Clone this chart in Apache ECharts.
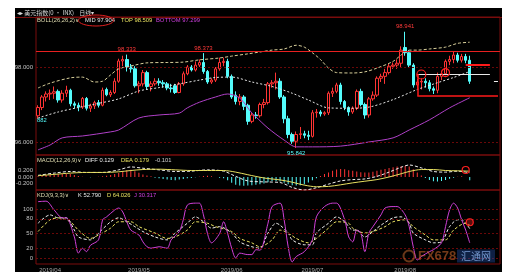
<!DOCTYPE html>
<html>
<head>
<meta charset="utf-8">
<script src="https://cdn.jsdelivr.net/npm/echarts@6.0.0/dist/echarts.min.js"></script>
<style>
html,body{margin:0;padding:0;background:#fff;overflow:hidden;}
#bg{position:absolute;left:15px;top:8px;width:487px;height:264px;background:#000;}
#c{position:absolute;left:0;top:0;width:512px;height:280px;}
</style>
</head>
<body>
<div id="bg"></div>
<div id="c"></div>
<script>
// ---- categories (trading days) ----
const monthDays = {
  '2019/03': [27,28,29],
  '2019/04': [1,2,3,4,5,8,9,10,11,12,15,16,17,18,19,22,23,24,25,26,29,30],
  '2019/05': [1,2,3,6,7,8,9,10,13,14,15,16,17,20,21,22,23,24,27,28,29,30,31],
  '2019/06': [3,4,5,6,7,10,11,12,13,14,17,18,19,20,21,24,25,26,27,28],
  '2019/07': [1,2,3,4,5,8,9,10,11,12,15,16,17,18,19,22,23,24,25,26,29,30,31],
  '2019/08': [1,2,5,6,7,8,9,12,13,14,15,16,19,20,21,22,23]
};
const blankSlots = ['x1','x2','x3','x4','x5','x6','x7'];

// ---- daily candles ----
const open = [96.70,96.92,97.20,97.28,97.30,97.35,97.12,97.30,97.38,97.02,
 96.98,96.93,97.16,96.90,96.96,97.05,96.98,97.40,97.26,97.32,
 97.62,98.16,98.20,98.00,97.95,97.50,97.55,97.85,97.48,97.55,
 97.62,97.58,97.55,97.44,97.50,97.32,97.55,97.82,98.00,97.92,
 98.05,98.12,97.88,97.60,97.65,97.95,98.12,98.15,97.75,97.25,
 97.08,97.20,96.98,96.55,96.72,96.70,97.00,97.05,97.55,97.58,
 97.62,97.20,96.62,96.20,96.02,96.20,96.22,96.18,96.15,96.78,
 96.80,96.75,96.78,97.30,97.35,97.52,97.08,96.92,96.80,96.90,
 97.35,97.00,96.72,97.15,97.25,97.70,97.75,97.85,98.02,98.05,
 98.10,98.52,98.38,98.05,97.52,97.60,97.62,97.58,97.42,97.38,
 97.75,97.82,98.15,98.20,98.32,98.18,98.28,98.18];
const close = [96.92,97.20,97.28,97.30,97.34,97.12,97.30,97.38,97.02,96.98,
 96.93,97.16,96.90,96.96,97.05,96.98,97.38,97.26,97.32,97.62,
 98.16,98.20,98.00,97.95,97.50,97.55,97.85,97.48,97.55,97.62,
 97.58,97.55,97.44,97.42,97.32,97.55,97.82,98.00,97.92,98.05,
 98.12,97.88,97.60,97.65,97.95,98.12,98.15,97.75,97.20,97.08,
 97.20,96.95,96.55,96.72,96.70,97.00,97.05,97.55,97.58,97.62,
 97.20,96.62,96.20,96.02,96.20,96.22,96.18,96.15,96.78,96.80,
 96.75,96.78,97.30,97.35,97.52,97.08,96.92,96.80,96.90,97.35,
 97.00,96.72,97.15,97.25,97.70,97.75,97.85,98.02,98.05,98.10,
 98.45,98.38,98.05,97.52,97.60,97.62,97.58,97.42,97.38,97.75,
 97.82,98.15,98.20,98.32,98.18,98.28,98.18,97.62];
const low = [96.62,96.85,97.08,97.12,97.15,97.05,97.05,97.20,96.95,96.90,
 96.82,96.88,96.84,96.80,96.88,96.92,96.95,97.22,97.20,97.28,
 97.58,98.02,97.88,97.85,97.45,97.30,97.48,97.40,97.35,97.50,
 97.50,97.45,97.38,97.32,97.28,97.30,97.50,97.78,97.88,97.88,
 98.00,97.82,97.55,97.55,97.60,97.90,98.02,97.70,97.15,97.00,
 96.98,96.85,96.46,96.50,96.62,96.65,96.90,97.00,97.45,97.40,
 97.15,96.50,96.10,95.95,95.84,96.08,96.10,96.05,96.12,96.65,
 96.68,96.70,96.72,97.20,97.30,97.00,96.85,96.70,96.75,96.85,
 96.95,96.62,96.65,97.10,97.20,97.60,97.55,97.80,97.95,97.95,
 98.00,98.30,97.98,97.45,97.42,97.40,97.45,97.35,97.28,97.30,
 97.65,97.78,98.05,98.10,98.12,98.12,98.10,97.55];
const high = [96.98,97.25,97.35,97.40,97.48,97.40,97.38,97.50,97.42,97.08,
 97.05,97.20,97.20,97.02,97.10,97.12,97.45,97.45,97.38,97.70,
 98.22,98.30,98.33,98.08,98.02,97.62,97.92,97.90,97.62,97.70,
 97.70,97.65,97.60,97.55,97.55,97.60,97.88,98.05,98.05,98.15,
 98.20,98.37,97.92,97.70,98.00,98.25,98.25,98.22,97.80,97.35,
 97.28,97.25,97.02,96.78,96.80,97.05,97.15,97.60,97.65,97.85,
 97.70,97.25,96.70,96.25,96.28,96.40,96.30,96.30,96.85,96.88,
 96.85,96.82,97.35,97.45,97.58,97.58,97.12,96.95,96.95,97.40,
 97.42,97.05,97.20,97.35,97.75,97.82,97.95,98.08,98.12,98.20,
 98.55,98.94,98.45,98.10,97.68,97.70,97.70,97.65,97.48,97.85,
 97.90,98.20,98.30,98.40,98.38,98.35,98.35,98.30];

// ---- BOLL bands, read at [day index, value] ----
const bollTop = [[0,97.44],[3,97.57],[8,97.71],[11,97.73],[14,97.60],[16,97.62],[18,97.79],[20,97.95],[24,98.05],[27,98.11],[32,98.12],[36,98.13],[40,98.19],[45,98.24],[48,98.29],[52,98.35],[55,98.40],[58,98.45],[61,98.48],[64,98.58],[66,98.53],[68,98.38],[70,98.20],[72,97.97],[74,97.85],[78,97.84],[81,97.87],[84,97.97],[88,98.15],[90,98.32],[92,98.45],[94,98.45],[97,98.48],[101,98.53],[104,98.63],[107,98.66]];
const bollMid = [[0,96.64],[5,96.80],[10,96.92],[15,97.03],[20,97.15],[25,97.36],[30,97.45],[35,97.55],[40,97.65],[44,97.72],[48,97.73],[53,97.60],[58,97.48],[63,97.30],[67,97.12],[72,96.91],[77,96.90],[82,96.93],[88,97.13],[94,97.40],[99,97.58],[103,97.72],[107,97.88]];
const bollBottom = [[0,95.79],[3,95.92],[6,96.11],[11,96.16],[18,96.27],[20,96.32],[25,96.64],[30,96.72],[35,96.77],[37,96.91],[40,97.06],[44,97.20],[47,97.28],[50,97.17],[53,96.77],[54,96.67],[57,96.37],[61,96.05],[64,95.87],[68,95.87],[75,95.89],[82,96.00],[88,96.11],[92,96.32],[97,96.59],[102,96.91],[107,97.18]];

// ---- MACD ----
const macdDiff = [[0,0.05],[4,0.12],[8,0.17],[12,0.14],[16,0.14],[20,0.22],[23,0.31],[26,0.27],[30,0.22],[34,0.17],[38,0.18],[42,0.22],[46,0.18],[49,0.02],[52,-0.12],[56,-0.15],[60,-0.17],[63,-0.32],[66,-0.40],[69,-0.33],[72,-0.22],[75,-0.12],[78,-0.08],[81,-0.06],[84,0.02],[87,0.15],[90,0.30],[92,0.37],[95,0.28],[98,0.17],[101,0.15],[104,0.18],[107,0.13]];
const macdDea = [[0,0.04],[4,0.08],[8,0.12],[12,0.14],[16,0.14],[20,0.16],[23,0.20],[26,0.23],[30,0.24],[34,0.22],[38,0.20],[42,0.20],[46,0.20],[49,0.15],[52,0.07],[56,-0.03],[60,-0.09],[63,-0.16],[66,-0.25],[69,-0.30],[72,-0.29],[75,-0.24],[78,-0.18],[81,-0.13],[84,-0.08],[87,0.00],[90,0.10],[92,0.17],[95,0.23],[98,0.23],[101,0.20],[104,0.19],[107,0.18]];
const macdHist = [0.02,0.04,0.06,0.07,0.08,0.09,0.10,0.10,0.09,0.06,
 0.03,0.01,0.00,-0.01,0.00,0.01,0.02,0.04,0.06,0.09,
 0.12,0.17,0.21,0.22,0.18,0.13,0.08,0.05,0.02,-0.02,
 -0.04,-0.06,-0.08,-0.09,-0.10,-0.08,-0.06,-0.04,-0.03,-0.01,
 0.01,0.03,0.04,0.02,0.00,-0.02,-0.04,-0.10,-0.18,-0.24,
 -0.26,-0.27,-0.26,-0.25,-0.24,-0.22,-0.20,-0.16,-0.12,-0.12,
 -0.14,-0.18,-0.22,-0.25,-0.26,-0.25,-0.22,-0.17,-0.10,-0.04,
 0.03,0.09,0.14,0.19,0.23,0.25,0.24,0.21,0.19,0.17,
 0.15,0.14,0.14,0.16,0.19,0.22,0.25,0.28,0.30,0.32,
 0.33,0.34,0.32,0.24,0.14,0.05,-0.03,-0.09,-0.13,-0.14,
 -0.12,-0.09,-0.05,-0.02,0.01,0.02,0.00,-0.10];

// ---- KDJ ----
const kdjK = [[0,71],[3,88],[5,82],[7,82],[9,57],[10,43],[13,37],[15,51],[18,74],[20,82],[22,74],[24,64],[26,54],[29,43],[32,37],[34,51],[37,71],[39,84],[41,74],[43,61],[45,64],[48,51],[50,33],[53,23],[55,20],[57,51],[59,71],[60,67],[62,51],[63,37],[66,27],[68,27],[69,51],[72,71],[74,84],[76,74],[78,57],[79,57],[81,43],[83,54],[85,67],[88,82],[90,84],[92,71],[93,51],[96,37],[98,31],[100,33],[102,64],[104,78],[105,78],[106,71],[107,60]];
const kdjD = [[0,54],[3,78],[5,82],[8,74],[10,57],[13,40],[15,47],[18,61],[20,74],[23,74],[25,64],[29,51],[32,40],[34,43],[37,57],[39,74],[42,71],[44,64],[48,54],[50,40],[53,31],[55,23],[58,37],[60,57],[62,51],[64,40],[67,31],[69,40],[72,61],[74,74],[77,71],[78,61],[81,51],[83,54],[86,64],[88,74],[91,78],[93,64],[96,47],[98,37],[101,37],[103,57],[106,71],[107,67]];
const kdjJ = [[0,115],[2,116],[4,98],[6,82],[7,82],[9,43],[10,10],[11,20],[12,13],[13,26],[15,37],[16,78],[17,84],[19,98],[20,102],[21,94],[22,74],[23,57],[25,47],[26,33],[27,23],[28,20],[30,23],[32,20],[33,37],[35,54],[36,78],[37,108],[39,112],[40,112],[41,88],[42,50],[43,31],[45,50],[46,74],[47,50],[48,20],[49,0],[50,10],[52,7],[53,7],[54,17],[55,16],[57,71],[58,105],[60,112],[61,78],[62,23],[63,-8],[64,3],[66,13],[68,37],[69,84],[71,105],[73,112],[74,112],[76,78],[77,43],[78,33],[79,57],[80,51],[81,13],[82,51],[83,64],[85,88],[86,102],[88,105],[89,105],[91,88],[92,64],[93,23],[94,-4],[95,3],[97,13],[98,17],[100,31],[101,64],[102,98],[103,112],[104,102],[105,78],[106,57],[107,31]];

// ---- tick labels ----
const priceTicks = [96, 98];
const macdTicks = [-0.2, 0, 0.2];
const kdjTicks = [0, 20, 50, 80, 100];

// ---- build ----
const dates = [];
const monthLabel = [];
Object.keys(monthDays).forEach((m, mi) => {
  monthDays[m].forEach((d, di) => {
    dates.push(m + '/' + (d < 10 ? '0' + d : d));
    monthLabel.push(di === 0 && mi > 0 ? m : '');
  });
});
const cats = dates.concat(blankSlots);
const candles = open.map((o, i) => [o, close[i], low[i], high[i]]);

const FONT = 'Liberation Sans, DejaVu Sans, Noto Sans CJK SC, sans-serif';
const RED = '#ff3434', CYAN = '#54fcfc';
const gridBorder = '#7a0c0c';
const HF = 5.8;

const xAxisBase = (gi, showLabel) => ({
  type: 'category', gridIndex: gi, data: cats, boundaryGap: true,
  axisLine: {show: false}, axisTick: {show: false}, splitLine: {show: false},
  axisLabel: showLabel ? {
    show: true, interval: 0, fontSize: 6, color: '#a8a8a8', margin: 3, fontFamily: FONT,
    formatter: (v, i) => monthLabel[i] || ''
  } : {show: false}
});

const lbl = (txt, color, pos) => ({
  show: true, position: pos, distance: 1.5, formatter: txt, color: color, fontSize: 6, fontFamily: FONT
});
const txt = (x, y, s, fill, extra) => Object.assign({
  type: 'text', z: 50, x: x, y: y,
  style: {text: s, fill: fill, fontSize: HF, fontFamily: FONT, verticalAlign: 'middle'}
}, extra || {});

const option = {
  animation: false,
  backgroundColor: 'transparent',
  textStyle: {fontFamily: FONT},
  grid: [
    {left: 36, top: 17, width: 464, height: 138, show: true, borderColor: gridBorder, borderWidth: 1},
    {left: 36, top: 155, width: 464, height: 35, show: true, borderColor: gridBorder, borderWidth: 1},
    {left: 36, top: 190, width: 464, height: 74, show: true, borderColor: gridBorder, borderWidth: 1}
  ],
  xAxis: [xAxisBase(0, false), xAxisBase(1, false), xAxisBase(2, true)],
  yAxis: [
    {type: 'value', gridIndex: 0, min: 95.653, max: 99.333, splitLine: {show: false}, axisLine: {show: false}, axisTick: {show: false},
     axisLabel: {customValues: priceTicks, formatter: v => v.toFixed(3), fontSize: 6, color: '#c0c0c0', margin: 3, fontFamily: FONT}},
    {type: 'value', gridIndex: 1, min: -0.4, max: 0.677, splitLine: {show: false}, axisLine: {show: false}, axisTick: {show: false},
     axisLabel: {customValues: macdTicks, formatter: v => v.toFixed(3), fontSize: 6, color: '#c0c0c0', margin: 3, fontFamily: FONT}},
    {type: 'value', gridIndex: 2, min: -12.2, max: 138.8, splitLine: {show: false}, axisLine: {show: false}, axisTick: {show: false},
     axisLabel: {customValues: kdjTicks, formatter: v => String(v), fontSize: 6, color: '#c0c0c0', margin: 3, fontFamily: FONT}}
  ],
  series: [
    {
      type: 'candlestick', xAxisIndex: 0, yAxisIndex: 0, data: candles, barWidth: 3,
      itemStyle: {color: '#000', color0: CYAN, borderColor: RED, borderColor0: CYAN, borderWidth: 1},
      markLine: {
        silent: true, symbol: ['none', 'none'], label: {show: false},
        data: [
          {yAxis: 98, lineStyle: {color: '#6a0808', type: [2, 2], width: 1}},
          {yAxis: 96, lineStyle: {color: '#6a0808', type: [2, 2], width: 1}},
          {yAxis: 98.42, lineStyle: {color: '#e82020', type: 'solid', width: 1}},
          [{coord: [106, 98.05], lineStyle: {color: '#ff1a1a', width: 2, type: 'solid'}}, {coord: [112, 98.05]}],
          [{coord: [94, 97.81], lineStyle: {color: '#e8e8e8', width: 1, type: 'solid'}}, {coord: [112, 97.81]}],
          [{coord: [94, 97.81], lineStyle: {color: '#ff1a1a', width: 1.5, type: 'solid'}}, {coord: [94, 97.23]}],
          [{coord: [94, 97.23], lineStyle: {color: '#ff1a1a', width: 1.5, type: 'solid'}}, {coord: [114, 97.23]}],
          [{coord: [113, 97.62], lineStyle: {color: '#f0f0f0', width: 1, type: 'solid'}}, {coord: [114, 97.62]}]
        ]
      },
      markPoint: {
        silent: true,
        data: [
          {coord: [22, 98.33], symbol: 'circle', symbolSize: 1, itemStyle: {color: 'transparent'}, label: lbl('98.333', '#ff3a3a', 'top')},
          {coord: [41, 98.37], symbol: 'circle', symbolSize: 1, itemStyle: {color: 'transparent'}, label: lbl('98.373', '#ff3a3a', 'top')},
          {coord: [91, 98.94], symbol: 'circle', symbolSize: 1, itemStyle: {color: 'transparent'}, label: lbl('98.941', '#ff3a3a', 'top')},
          {coord: [64, 95.84], symbol: 'circle', symbolSize: 1, itemStyle: {color: 'transparent'}, label: lbl('95.842', CYAN, 'bottom')},
          {coord: [95, 97.80], symbol: 'circle', symbolSize: 9, itemStyle: {color: 'transparent', borderColor: '#ff2020', borderWidth: 1.2}, label: {show: false}},
          {coord: [101, 97.85], symbol: 'circle', symbolSize: 8, itemStyle: {color: 'transparent', borderColor: '#ff2020', borderWidth: 1.2}, label: {show: false}}
        ]
      }
    },
    {type: 'line', xAxisIndex: 0, yAxisIndex: 0, data: bollTop, symbol: 'none', smooth: 0.3,
     lineStyle: {color: '#d8cf9a', width: 1, type: [3, 2]}},
    {type: 'line', xAxisIndex: 0, yAxisIndex: 0, data: bollMid, symbol: 'none', smooth: 0.3,
     lineStyle: {color: '#e6e6e6', width: 1, type: [2, 2]}},
    {type: 'line', xAxisIndex: 0, yAxisIndex: 0, data: bollBottom, symbol: 'none', smooth: 0.3,
     lineStyle: {color: '#b040c8', width: 1}},
    {type: 'bar', xAxisIndex: 1, yAxisIndex: 1, data: macdHist, barWidth: 1,
     itemStyle: {color: p => p.value >= 0 ? RED : CYAN}},
    {type: 'line', xAxisIndex: 1, yAxisIndex: 1, data: macdDiff, symbol: 'none', smooth: 0.3,
     lineStyle: {color: '#f0f0f0', width: 1, type: [3, 2]}},
    {type: 'line', xAxisIndex: 1, yAxisIndex: 1, data: macdDea, symbol: 'none', smooth: 0.3,
     lineStyle: {color: '#e8e060', width: 1},
     markPoint: {silent: true, data: [
       {coord: [106, 0.215], symbol: 'circle', symbolSize: 7, itemStyle: {color: 'transparent', borderColor: '#ff2020', borderWidth: 1.2}, label: {show: false}}
     ]}},
    {type: 'line', xAxisIndex: 2, yAxisIndex: 2, data: kdjK, symbol: 'none', smooth: 0.3,
     lineStyle: {color: '#f0f0f0', width: 1, type: [3, 2]},
     markLine: {silent: true, symbol: ['none', 'none'], label: {show: false},
       lineStyle: {color: '#6a0808', type: [2, 2], width: 1},
       data: kdjTicks.map(v => ({yAxis: v}))}},
    {type: 'line', xAxisIndex: 2, yAxisIndex: 2, data: kdjD, symbol: 'none', smooth: 0.3,
     lineStyle: {color: '#e8e060', width: 1, type: [3, 2]}},
    {type: 'line', xAxisIndex: 2, yAxisIndex: 2, data: kdjJ, symbol: 'none', smooth: 0.3,
     lineStyle: {color: '#d040d8', width: 1},
     markPoint: {silent: true, data: [
       {coord: [107, 73], symbol: 'circle', symbolSize: 7, itemStyle: {color: 'rgba(255,40,40,0.35)', borderColor: '#ff2020', borderWidth: 1.2}, label: {show: false}}
     ]}}
  ],
  graphic: [
    {type: 'line', z: 50, shape: {x1: 15, y1: 17.5, x2: 502, y2: 17.5}, style: {stroke: gridBorder, lineWidth: 1}},
    {type: 'text', z: 50, x: 17, y: 12.5, style: {text: '◂▸ 美元指数(0 · INX)    日线▾', fill: '#d8d8d8', fontSize: 6, fontFamily: 'Noto Sans CJK SC', verticalAlign: 'middle'}},
    txt(37, 20.5, 'BOLL(26,26,2)∨', '#e0dcb0'),
    txt(85, 20.5, 'MID 97.904', '#e8e8e8'),
    txt(121, 20.5, 'TOP 98.509', '#e8e060'),
    txt(156, 20.5, 'BOTTOM 97.299', '#d040e0'),
    {type: 'ellipse', z: 50, shape: {cx: 96, cy: 20.5, rx: 17.5, ry: 5.5}, style: {fill: 'none', stroke: '#e02020', lineWidth: 1}},
    txt(37, 120, '882', CYAN),
    txt(37, 160.5, 'MACD(12,26,9)∨', '#e0dcb0'),
    txt(85, 160.5, 'DIFF 0.129', '#e8e8e8'),
    txt(121, 160.5, 'DEA 0.179', '#e8e060'),
    txt(155, 160.5, '-0.101', '#d0d0d0'),
    txt(37, 195.5, 'KDJ(9,3,3)∨', '#e0dcb0'),
    txt(78, 195.5, 'K 52.790', '#e8e8e8'),
    txt(107, 195.5, 'D 64.026', '#e8e060'),
    txt(134, 195.5, 'J 30.317', '#d040e0'),
    // watermark
    {type: 'circle', z: 60, shape: {cx: 409, cy: 256, r: 5.5}, style: {fill: 'none', stroke: 'rgba(210,110,50,0.5)', lineWidth: 2}},
    {type: 'text', z: 60, x: 418, y: 256.5, style: {text: 'FX678', fill: 'rgba(210,105,45,0.55)', fontSize: 13, fontWeight: 'bold', fontFamily: FONT, verticalAlign: 'middle'}},
    {type: 'rect', z: 60, shape: {x: 457, y: 249.5, width: 38, height: 13}, style: {fill: 'rgba(30,70,150,0.45)'}},
    {type: 'text', z: 61, x: 476, y: 256.5, style: {text: '汇通网', fill: 'rgba(140,180,240,0.8)', fontSize: 10, fontFamily: 'Noto Sans CJK SC', align: 'center', verticalAlign: 'middle'}}
  ]
};

const chart = echarts.init(document.getElementById('c'), null, {renderer: 'canvas', width: 512, height: 280});
chart.setOption(option);
</script>
</body>
</html>
